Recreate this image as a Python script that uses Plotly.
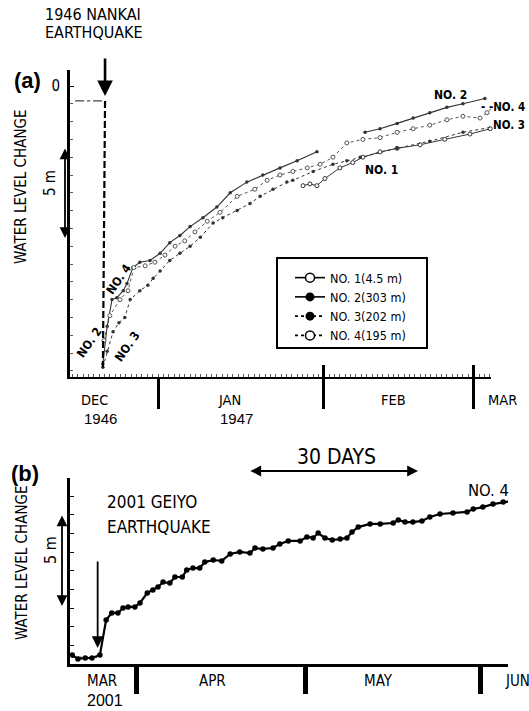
import plotly.graph_objects as go

W, H = 529, 711

# ---------------- Panel (a): 1946 Nankai earthquake ----------------
# x: days relative to 1 Jan 1947, y: water level change (m)
no1_day = [27.1, 28.4, 29.7, 31.2, 34.0, 36.4, 38.3, 41.5, 44.7, 49.0, 53.6, 58.3, 62.1]
no1_lvl = [-5.6, -5.5, -5.6, -5.2, -4.6, -4.3, -4.0, -3.7, -3.5, -3.3, -3.0, -2.7, -2.4]

no2_day = [-10.3, -9.5, -8.6, -7.7, -6.5, -5.8, -4.7, -3.4, -1.5, 0.4, 2.2, 4.1, 6.0, 8.4,
           11.0, 13.5, 16.6, 19.6, 22.8, 26.0, 29.7, None,
           38.7, 41.5, 44.7, 47.7, 50.8, 54.0, 57.0, 61.1]
no2_lvl = [-15.6, -13.5, -12.0, -11.9, -11.5, -11.1, -10.2, -9.9, -9.8, -9.4, -8.8, -8.4, -7.9, -7.4,
           -6.8, -6.0, -5.4, -5.0, -4.6, -4.2, -3.7, None,
           -2.6, -2.4, -2.1, -1.8, -1.5, -1.2, -1.0, -0.7]

no3_day = [-10.3, -9.5, -8.4, -7.3, -6.2, -5.2, -3.4, -1.9, -0.9, 0.4, 2.2, 4.1, 6.0, 7.9, 10.3,
           12.1, 14.8, 17.2, 19.1, 21.5, 24.1, 25.2, 29.0, 32.7, 35.3, 37.8, 44.7, 50.8, 57.0, 62.6]
no3_lvl = [-15.8, -14.9, -13.8, -13.3, -13.0, -12.0, -11.5, -11.2, -10.8, -10.4, -9.8, -9.4, -9.0, -8.5, -7.7,
           -7.4, -7.0, -6.6, -6.2, -5.8, -5.4, -5.3, -4.8, -4.4, -4.2, -4.0, -3.5, -3.1, -2.6, -2.3]

no4_day = [-10.1, -9.0, -7.1, -5.6, -4.5, -2.4, -0.6, 1.3, 3.2, 5.0, 6.9, 9.2, 11.6, 14.8, 18.1,
           20.4, 22.8, 25.2, 27.9, 30.3, 32.7, 35.3, 38.3, 41.5, 44.7, 47.7, 50.8, 54.0, 57.0, 60.2, 61.5, 62.6]
no4_lvl = [-14.3, -12.9, -12.0, -11.5, -10.2, -10.1, -9.9, -9.5, -9.0, -8.7, -8.2, -7.6, -7.1, -6.2, -5.8,
           -5.3, -5.0, -4.8, -4.6, -4.4, -4.0, -3.2, -3.0, -2.9, -2.6, -2.4, -2.2, -1.9, -1.7, -1.8, -1.5, -1.2]

pre_level_a = -0.84
quake_day_a = -9.9
pre_start_a = -15.5
drop_bottom_a = -15.8
months_a = [0, 31, 59]            # JAN, FEB, MAR boundaries
legend_names = ["NO. 1(4.5 m)", "NO. 2(303 m)", "NO. 3(202 m)", "NO. 4(195 m)"]

# ---------------- Panel (b): 2001 Geiyo earthquake (NO.4) ----------------
# x: days relative to 1 Apr 2001, y: water level change (m)
b_day = [-11.3, -10.3, -9.0, -7.8, -6.4, -5.3, -4.3, -3.2, -2.3, -1.4, -0.2, 0.7, 2.0, 3.0, 3.9,
         4.8, 6.0, 6.9, 8.2, 9.0, 10.1, 11.3, 12.2, 13.7, 15.2, 16.7, 18.4, 20.2, 21.1, 22.5,
         24.3, 25.5, 27.0, 29.1, 30.3, 31.4, 32.3, 33.5, 34.8, 36.2, 37.4, 38.3, 39.4, 41.5, 43.3,
         45.6, 46.5, 47.7, 49.1, 50.7, 52.1, 53.9, 56.2, 58.7, 59.8, 61.5, 63.3, 65.1, 66.7]
b_lvl = [0.0, -0.21, -0.16, -0.16, 0.0, 1.87, 2.25, 2.25, 2.51, 2.57, 2.57, 2.78, 3.32, 3.48, 3.64,
         3.90, 3.85, 4.17, 4.17, 4.55, 4.65, 4.65, 4.97, 5.08, 5.03, 5.40, 5.51, 5.45, 5.72, 5.67,
         5.72, 5.94, 6.10, 6.10, 6.31, 6.26, 6.52, 6.26, 6.15, 6.20, 6.26, 6.58, 6.84, 7.01, 7.01,
         7.06, 7.22, 7.11, 7.11, 7.17, 7.38, 7.54, 7.59, 7.65, 7.81, 7.91, 8.07, 8.18, 8.24]
pre_level_b = -0.12
pre_span_b = [-11.4, -6.9]
quake_day_b = -6.8
months_b = [0, 30, 61]            # APR, MAY, JUN boundaries

NARROW = "Liberation Sans Narrow, DejaVu Sans Condensed, Arial Narrow, sans-serif"
ARIAL = "Liberation Sans, Arial, sans-serif"


def px(x):
    return x / W


def py(y):
    return 1 - y / H


fig = go.Figure()

INK = "#333333"
# Panel (a) curves
fig.add_trace(go.Scatter(x=no1_day, y=no1_lvl, mode="lines+markers", showlegend=False, cliponaxis=False,
                         line=dict(color=INK, width=1),
                         marker=dict(symbol="circle", size=4, color="white", line=dict(color=INK, width=1))))
fig.add_trace(go.Scatter(x=no2_day, y=no2_lvl, mode="lines+markers", showlegend=False, cliponaxis=False,
                         line=dict(color=INK, width=1.1), marker=dict(symbol="circle", size=3.5, color=INK)))
fig.add_trace(go.Scatter(x=no3_day, y=no3_lvl, mode="lines+markers", showlegend=False, cliponaxis=False,
                         line=dict(color=INK, width=1, dash="dot"), marker=dict(symbol="circle", size=3.5, color=INK)))
fig.add_trace(go.Scatter(x=no4_day, y=no4_lvl, mode="lines+markers", showlegend=False, cliponaxis=False,
                         line=dict(color="#555555", width=1, dash="dot"),
                         marker=dict(symbol="circle", size=4, color="white", line=dict(color="#555555", width=1))))
# pre-earthquake level and sudden drop
fig.add_trace(go.Scatter(x=[pre_start_a, quake_day_a], y=[pre_level_a, pre_level_a], mode="lines", showlegend=False,
                         line=dict(color="#444444", width=1.2, dash="dashdot")))
fig.add_trace(go.Scatter(x=[quake_day_a, quake_day_a - 0.4], y=[pre_level_a, drop_bottom_a], mode="lines",
                         showlegend=False, line=dict(color="black", width=2.2, dash="7px,3px")))

# Legend entries
leg_styles = [
    dict(line=dict(color="black", width=1.6), marker=dict(symbol="circle", size=9, color="white", line=dict(color="black", width=1.5))),
    dict(line=dict(color="black", width=1.6), marker=dict(symbol="circle", size=9, color="black")),
    dict(line=dict(color="black", width=1.6, dash="dot"), marker=dict(symbol="circle", size=9, color="black")),
    dict(line=dict(color="black", width=1.6, dash="dot"), marker=dict(symbol="circle", size=9, color="white", line=dict(color="black", width=1.5))),
]
for name, st in zip(legend_names, leg_styles):
    fig.add_trace(go.Scatter(x=[None], y=[None], mode="lines+markers", name=name, **st))

# helper trace for the short upward month ticks of panel (a)
fig.add_trace(go.Scatter(x=[None], y=[None], xaxis="x3", yaxis="y", showlegend=False))

# Panel (b) curve
fig.add_trace(go.Scatter(x=b_day, y=b_lvl, mode="lines+markers", showlegend=False, cliponaxis=False,
                         xaxis="x2", yaxis="y2",
                         line=dict(color="black", width=2.2), marker=dict(symbol="circle", size=5.5, color="black")))
fig.add_trace(go.Scatter(x=pre_span_b, y=[pre_level_b, pre_level_b], mode="lines", showlegend=False,
                         xaxis="x2", yaxis="y2", line=dict(color="black", width=1, dash="4px,2px")))

xa_rng = [(70 - 158) / 5.35, (491 - 158) / 5.35]
ya_rng = [(86 - 377) / 17.8, (86 - 70) / 17.8]
xb_rng = [(70 - 136) / 5.64, (508 - 136) / 5.64]
yb_rng = [(655 - 664) / 18.7, (655 - 478) / 18.7]

fig.update_layout(
    width=W, height=H, margin=dict(l=0, r=0, t=0, b=0),
    paper_bgcolor="white", plot_bgcolor="white",
    showlegend=True,
    legend=dict(x=px(290), y=py(263), xanchor="left", yanchor="top", bgcolor="rgba(0,0,0,0)",
                borderwidth=0, font=dict(family=NARROW, size=12.5, color="black"), tracegroupgap=0,
                itemwidth=30),
    xaxis=dict(domain=[px(70), px(491)], range=xa_rng, anchor="y", showline=True, linecolor="black",
               linewidth=2, ticks="outside", tickvals=months_a, ticklen=30, tickwidth=2.5, tickcolor="black",
               showticklabels=False, showgrid=False, zeroline=False,
               minor=dict(ticks="inside", tick0=0, dtick=1, ticklen=3, tickwidth=1, tickcolor="#555555",
                          showgrid=False)),
    xaxis3=dict(overlaying="x", anchor="y", side="bottom", range=xa_rng, showline=False, ticks="inside",
                tickvals=months_a[1:], ticklen=12, tickwidth=2.5, tickcolor="black", showticklabels=False,
                showgrid=False, zeroline=False),
    yaxis=dict(domain=[py(377), py(70)], range=ya_rng, anchor="x", showline=True, linecolor="black",
               linewidth=3, ticks="inside", tickvals=[0], ticktext=["0"], ticklen=4, tickcolor="black",
               ticklabelstandoff=4, tickfont=dict(family=NARROW, size=15, color="black"),
               showgrid=False, zeroline=False,
               minor=dict(ticks="inside", tick0=0, dtick=1, ticklen=3, tickwidth=1, tickcolor="#555555",
                          showgrid=False)),
    xaxis2=dict(domain=[px(70), px(508)], range=xb_rng, anchor="y2", showline=True, linecolor="black",
                linewidth=2.5, ticks="outside", tickvals=months_b, ticklen=27, tickwidth=4.5,
                tickcolor="black", showticklabels=False, showgrid=False, zeroline=False),
    yaxis2=dict(domain=[py(664), py(478)], range=yb_rng, anchor="x2", showline=True, linecolor="black",
                linewidth=2.5, ticks="inside", tick0=0.5, dtick=1, ticklen=4, tickwidth=1, tickcolor="black",
                showticklabels=False, showgrid=False, zeroline=False),
)

anns = []


def T(text, x, y, size, family=NARROW, angle=0, xanchor="center", bold=False, color="black"):
    anns.append(dict(xref="paper", yref="paper", x=px(x), y=py(y), text=text, showarrow=False,
                     xanchor=xanchor, yanchor="middle", textangle=angle,
                     font=dict(family=family, size=size, color=color, weight="bold" if bold else "normal")))


# Panel (a) texts
T("1946 NANKAI", 43, 15, 16, xanchor="left")
T("EARTHQUAKE", 43, 33, 16, xanchor="left")
T("(a)", 27, 81, 22, family=ARIAL, bold=True)
T("WATER LEVEL CHANGE", 21, 187, 15, angle=-90)
T("5 m", 50, 183, 15, angle=-90)
T("DEC", 94, 400, 14.5)
T("JAN", 229, 400, 14.5)
T("FEB", 393, 400, 14.5)
T("MAR", 502, 400, 14.5)
T("1946", 100, 419, 15, family=ARIAL)
T("1947", 236, 419, 15, family=ARIAL)
T("NO. 2", 450, 95, 12, bold=True)
T("- -NO. 4", 527, 107, 11.5, bold=True, xanchor="right")
T("NO. 3", 527, 125, 11.5, bold=True, xanchor="right")
T("NO. 1", 381, 170, 12, bold=True)
T("NO. 4", 119, 279, 12, angle=-55, bold=True)
T("NO. 2", 89, 343, 12, angle=-55, bold=True)
T("NO. 3", 127, 347, 12, angle=-55, bold=True)

# Panel (b) texts
T("(b)", 25, 473, 22, family=ARIAL, bold=True)
T("2001 GEIYO", 105, 502, 17, xanchor="left")
T("EARTHQUAKE", 105, 527, 17, xanchor="left")
T("WATER LEVEL CHANGE", 22, 563, 15, angle=-90)
T("5 m", 50, 550, 16, angle=-90)
T("30 DAYS", 336, 457, 21)
T("NO. 4", 488, 490, 16.5)
T("MAR", 102, 681, 15)
T("APR", 212, 681, 15)
T("MAY", 378, 681, 15)
T("JUN", 503, 681, 15, xanchor="left")
T("2001", 105, 700, 16, family=ARIAL)

# Arrows
anns.append(dict(xref="x", yref="paper", x=quake_day_a, y=py(96), ax=0, ay=-39, text="", showarrow=True,
                 arrowhead=2, arrowsize=1.2, arrowwidth=2.6, arrowcolor="black"))
anns.append(dict(xref="x2", yref="paper", x=quake_day_b, y=py(648), ax=0, ay=-88, text="", showarrow=True,
                 arrowhead=2, arrowsize=1.3, arrowwidth=1.8, arrowcolor="black"))
anns.append(dict(xref="paper", yref="paper", x=px(65), y=py(238), ax=0, ay=-91, text="", showarrow=True,
                 arrowhead=2, startarrowhead=2, arrowside="end+start", arrowsize=1.2, arrowwidth=1.8,
                 arrowcolor="black"))
anns.append(dict(xref="paper", yref="paper", x=px(62), y=py(606), ax=0, ay=-92, text="", showarrow=True,
                 arrowhead=2, startarrowhead=2, arrowside="end+start", arrowsize=1.2, arrowwidth=1.8,
                 arrowcolor="black"))
anns.append(dict(xref="x2", yref="paper", x=50, y=py(471), axref="x2", ax=20, ay=0, text="", showarrow=True,
                 arrowhead=2, startarrowhead=2, arrowside="end+start", arrowsize=1.2, arrowwidth=1.8,
                 arrowcolor="black"))

fig.update_layout(annotations=anns)

# legend frame
fig.add_shape(type="rect", xref="paper", yref="paper", x0=px(277), x1=px(427), y0=py(348), y1=py(258),
              line=dict(color="black", width=2), fillcolor="rgba(0,0,0,0)")

fig.write_html("out.html")
